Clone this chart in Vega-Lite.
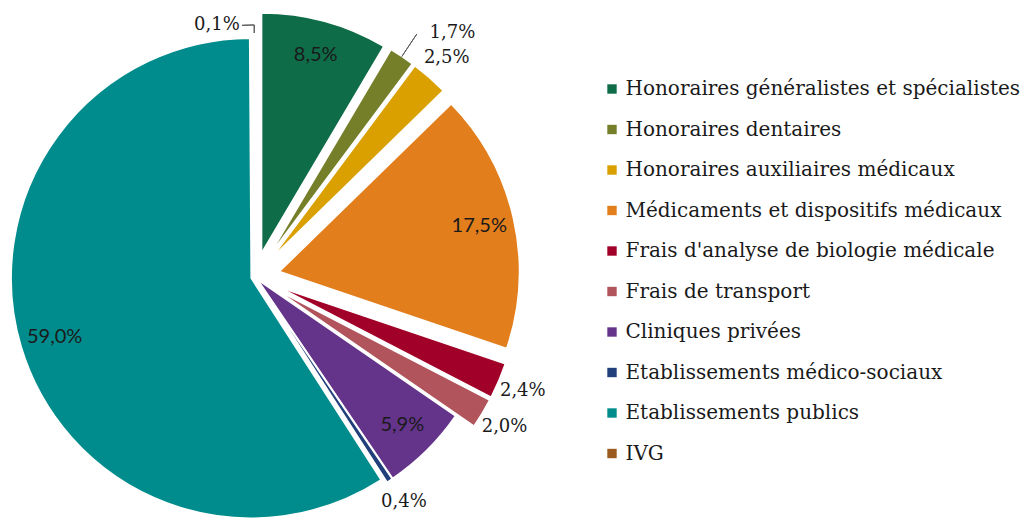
{
  "$schema": "https://vega.github.io/schema/vega-lite/v6.json",
  "width": 510,
  "height": 482,
  "autosize": "none",
  "padding": {"left": 0, "top": 36, "right": 514, "bottom": 0},
  "background": "white",
  "config": {
    "view": {"stroke": null},
    "locale": {"number": {"decimal": ",", "thousands": "\u00a0", "grouping": [3], "currency": ["", "\u00a0€"]}}
  },
  "data": {"values": [
    {"cat": "Honoraires généralistes et spécialistes", "share": 0.085},
    {"cat": "Honoraires dentaires", "share": 0.017},
    {"cat": "Honoraires auxiliaires médicaux", "share": 0.025},
    {"cat": "Médicaments et dispositifs médicaux", "share": 0.175},
    {"cat": "Frais d'analyse de biologie médicale", "share": 0.024},
    {"cat": "Frais de transport", "share": 0.020},
    {"cat": "Cliniques privées", "share": 0.059},
    {"cat": "Etablissements médico-sociaux", "share": 0.004},
    {"cat": "Etablissements publics", "share": 0.590},
    {"cat": "IVG", "share": 0.001}
  ]},
  "transform": [{"stack": "share", "groupby": [], "as": ["start", "end"]}],
  "layer": [
    {
      "mark": {
        "type": "arc", "radius": 240, "stroke": "white", "strokeWidth": 1.5,
        "xOffset": {"expr": "(indexof(['Cliniques privées','Etablissements médico-sociaux','Etablissements publics','IVG'], datum.cat) >= 0 ? 4 : 25) * sin(PI*(datum.start+datum.end))"},
        "yOffset": {"expr": "-(indexof(['Cliniques privées','Etablissements médico-sociaux','Etablissements publics','IVG'], datum.cat) >= 0 ? 4 : 25) * cos(PI*(datum.start+datum.end))"}
      },
      "encoding": {
        "theta": {"field": "start", "type": "quantitative", "scale": {"domain": [0, 1]}},
        "theta2": {"field": "end"},
        "color": {
          "field": "cat", "type": "nominal",
          "scale": {
            "domain": ["Honoraires généralistes et spécialistes", "Honoraires dentaires", "Honoraires auxiliaires médicaux", "Médicaments et dispositifs médicaux", "Frais d'analyse de biologie médicale", "Frais de transport", "Cliniques privées", "Etablissements médico-sociaux", "Etablissements publics", "IVG"],
            "range": ["#0E6C48", "#757F2A", "#D9A000", "#E37E1D", "#A10028", "#B1545C", "#64338A", "#203F7B", "#008C8C", "#9B5B1E"]
          },
          "legend": {
            "title": null, "orient": "none", "legendX": 602, "legendY": 43,
            "symbolType": "square", "symbolSize": 88, "symbolStrokeWidth": 0,
            "labelFont": "DejaVu Serif", "labelFontSize": 20, "labelColor": "#1a1a1a",
            "rowPadding": 20.5, "labelOffset": 3.5, "padding": 0, "labelLimit": 600, "symbolOffset": 0
          }
        }
      }
    },
    {
      "transform": [{"filter": {"field": "cat", "oneOf": ["Honoraires généralistes et spécialistes", "Médicaments et dispositifs médicaux", "Cliniques privées", "Etablissements publics"]}}],
      "mark": {
        "type": "text", "radius": 205, "font": "Lato", "fontSize": 20, "color": "#1a1a1a",
        "thetaOffset": {"expr": "PI*(datum.end-datum.start)"},
        "xOffset": {"expr": "(indexof(['Cliniques privées','Etablissements médico-sociaux','Etablissements publics','IVG'], datum.cat) >= 0 ? 4 : 25) * sin(PI*(datum.start+datum.end))"},
        "yOffset": {"expr": "-(indexof(['Cliniques privées','Etablissements médico-sociaux','Etablissements publics','IVG'], datum.cat) >= 0 ? 4 : 25) * cos(PI*(datum.start+datum.end))"}
      },
      "encoding": {
        "theta": {"field": "start", "type": "quantitative"},
        "text": {"field": "share", "type": "quantitative", "format": ".1%"}
      }
    },
    {
      "transform": [{"filter": {"field": "cat", "oneOf": ["Honoraires auxiliaires médicaux", "Frais d'analyse de biologie médicale", "Frais de transport", "Etablissements médico-sociaux"]}}],
      "mark": {
        "type": "text", "radius": 266, "font": "DejaVu Serif", "fontSize": 18, "color": "#1a1a1a",
        "thetaOffset": {"expr": "PI*(datum.end-datum.start)"},
        "xOffset": {"expr": "(indexof(['Cliniques privées','Etablissements médico-sociaux','Etablissements publics','IVG'], datum.cat) >= 0 ? 4 : 25) * sin(PI*(datum.start+datum.end))"},
        "yOffset": {"expr": "-(indexof(['Cliniques privées','Etablissements médico-sociaux','Etablissements publics','IVG'], datum.cat) >= 0 ? 4 : 25) * cos(PI*(datum.start+datum.end))"}
      },
      "encoding": {
        "theta": {"field": "start", "type": "quantitative"},
        "text": {"field": "share", "type": "quantitative", "format": ".1%"}
      }
    },
    {
      "transform": [{"filter": {"field": "cat", "equal": "Honoraires dentaires"}}],
      "mark": {
        "type": "text", "radius": 289, "font": "DejaVu Serif", "fontSize": 18, "color": "#1a1a1a",
        "thetaOffset": {"expr": "PI*(datum.end-datum.start) + 0.101"},
        "xOffset": {"expr": "25 * sin(PI*(datum.start+datum.end))"},
        "yOffset": {"expr": "-25 * cos(PI*(datum.start+datum.end))"}
      },
      "encoding": {
        "theta": {"field": "start", "type": "quantitative"},
        "text": {"field": "share", "type": "quantitative", "format": ".1%"}
      }
    },
    {
      "transform": [{"filter": {"field": "cat", "equal": "IVG"}}],
      "mark": {
        "type": "text", "radius": 251, "font": "DejaVu Serif", "fontSize": 18, "color": "#1a1a1a",
        "thetaOffset": {"expr": "PI*(datum.end-datum.start) - 0.149"},
        "xOffset": {"expr": "4 * sin(PI*(datum.start+datum.end))"},
        "yOffset": {"expr": "-4 * cos(PI*(datum.start+datum.end))"}
      },
      "encoding": {
        "theta": {"field": "start", "type": "quantitative"},
        "text": {"field": "share", "type": "quantitative", "format": ".1%"}
      }
    },
    {
      "transform": [{"filter": {"field": "cat", "equal": "Honoraires dentaires"}}],
      "mark": {
        "type": "arc", "radius": 267, "radius2": 240, "fillOpacity": 0, "stroke": "#595959", "strokeWidth": 1,
        "thetaOffset": {"expr": "PI*(datum.end-datum.start)"},
        "theta2Offset": {"expr": "PI*(datum.end-datum.start)"},
        "xOffset": {"expr": "25 * sin(PI*(datum.start+datum.end))"},
        "yOffset": {"expr": "-25 * cos(PI*(datum.start+datum.end))"}
      },
      "encoding": {
        "theta": {"field": "start", "type": "quantitative"},
        "theta2": {"field": "start"}
      }
    },
    {
      "transform": [{"filter": {"field": "cat", "equal": "IVG"}}],
      "mark": {
        "type": "arc", "radius": 248, "radius2": 240, "fillOpacity": 0, "stroke": "#595959", "strokeWidth": 1,
        "thetaOffset": {"expr": "PI*(datum.end-datum.start)"},
        "theta2Offset": {"expr": "PI*(datum.end-datum.start)"},
        "xOffset": {"expr": "4 * sin(PI*(datum.start+datum.end))"},
        "yOffset": {"expr": "-4 * cos(PI*(datum.start+datum.end))"}
      },
      "encoding": {
        "theta": {"field": "start", "type": "quantitative"},
        "theta2": {"field": "start"}
      }
    },
    {
      "transform": [{"filter": {"field": "cat", "equal": "IVG"}}],
      "mark": {
        "type": "arc", "radius": 248, "radius2": 248, "fillOpacity": 0, "stroke": "#595959", "strokeWidth": 1,
        "thetaOffset": {"expr": "PI*(datum.end-datum.start) - 0.049"},
        "theta2Offset": {"expr": "PI*(datum.end-datum.start)"},
        "xOffset": {"expr": "4 * sin(PI*(datum.start+datum.end))"},
        "yOffset": {"expr": "-4 * cos(PI*(datum.start+datum.end))"}
      },
      "encoding": {
        "theta": {"field": "start", "type": "quantitative"},
        "theta2": {"field": "start"}
      }
    }
  ]
}
